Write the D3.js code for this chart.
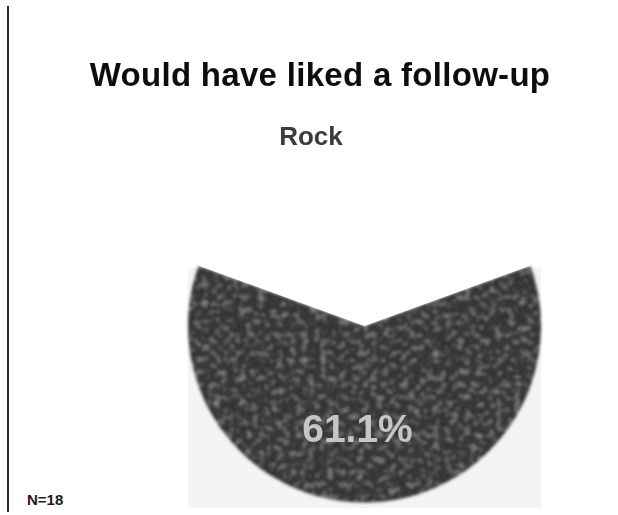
<!DOCTYPE html>
<html>
<head>
<meta charset="utf-8">
<script src="https://cdn.jsdelivr.net/npm/d3@7"></script>
<style>
  html, body { margin: 0; padding: 0; background: #ffffff; }
  svg { display: block; }
  text { font-family: "Liberation Sans", Arial, sans-serif; }
</style>
</head>
<body>
<div id="chart"></div>
<script>
// Chart data
const title = "Would have liked a follow-up";
const subtitle = "Rock";
const categories = ["Yes", "No"];
const values = [61.1, 38.9];
const sampleNote = "N=18";

const W = 618, H = 515;
const svg = d3.select("#chart").append("svg")
  .attr("width", W).attr("height", H);

const defs = svg.append("defs");

// Mottled texture + slight softening for the pie fill
const grain = defs.append("filter").attr("id", "grain")
  .attr("x", "-5%").attr("y", "-5%").attr("width", "110%").attr("height", "110%");
grain.append("feTurbulence").attr("type", "fractalNoise")
  .attr("baseFrequency", 0.16).attr("numOctaves", 3).attr("seed", 11).attr("result", "noise");
grain.append("feColorMatrix").attr("in", "noise").attr("type", "matrix")
  .attr("values", "0 0 0 0 0.34  0 0 0 0 0.34  0 0 0 0 0.34  2.0 0 0 0 -1.0")
  .attr("result", "light");
grain.append("feColorMatrix").attr("in", "noise").attr("type", "matrix")
  .attr("values", "0 0 0 0 0.06  0 0 0 0 0.06  0 0 0 0 0.06  -2.4 0 0 0 1.1")
  .attr("result", "dark");
grain.append("feComposite").attr("in", "light").attr("in2", "SourceGraphic")
  .attr("operator", "in").attr("result", "lightIn");
grain.append("feComposite").attr("in", "dark").attr("in2", "SourceGraphic")
  .attr("operator", "in").attr("result", "darkIn");
const merge = grain.append("feMerge").attr("result", "merged");
merge.append("feMergeNode").attr("in", "SourceGraphic");
merge.append("feMergeNode").attr("in", "lightIn");
merge.append("feMergeNode").attr("in", "darkIn");
grain.append("feGaussianBlur").attr("in", "merged").attr("stdDeviation", 1.5);

const soft = defs.append("filter").attr("id", "soft");
soft.append("feGaussianBlur").attr("stdDeviation", 0.6);

// Left frame rule
svg.append("line")
  .attr("x1", 8).attr("x2", 8).attr("y1", 6).attr("y2", 512)
  .attr("stroke", "#2a2a2a").attr("stroke-width", 2);

// Titles
svg.append("text")
  .attr("x", 320).attr("y", 86)
  .attr("text-anchor", "middle")
  .attr("font-size", 33).attr("font-weight", "bold")
  .attr("letter-spacing", 0.3)
  .attr("fill", "#111")
  .attr("filter", "url(#soft)")
  .text(title);

svg.append("text")
  .attr("x", 311).attr("y", 145)
  .attr("text-anchor", "middle")
  .attr("font-size", 26).attr("font-weight", "bold")
  .attr("fill", "#3a3a3a")
  .attr("filter", "url(#soft)")
  .text(subtitle);

// Pie
const cx = 364.5, cy = 326, r = 176.5;

// light plot-area panel behind the pie
svg.append("rect")
  .attr("x", cx - r).attr("y", 268)
  .attr("width", 2 * r).attr("height", 240)
  .attr("fill", "#f4f4f4");

const pie = d3.pie().sort(null)
  .startAngle(Math.PI * values[1] / 100)
  .endAngle(Math.PI * values[1] / 100 + 2 * Math.PI);
const arcs = pie(values);
const arc = d3.arc().innerRadius(0).outerRadius(r);
const color = d3.scaleOrdinal().domain(categories).range(["#333333", "#ffffff"]);

const g = svg.append("g").attr("transform", `translate(${cx},${cy})`);
g.selectAll("path.slice")
  .data(arcs)
  .join("path")
  .attr("class", "slice")
  .attr("d", arc)
  .attr("fill", (d, i) => color(categories[i]))
  .attr("filter", (d, i) => i === 0 ? "url(#grain)" : null);

// Value label on the main slice
const labelArc = d3.arc().innerRadius(r * 0.58).outerRadius(r * 0.58);
const c0 = labelArc.centroid(arcs[0]);
g.append("text")
  .attr("x", c0[0] - 7).attr("y", c0[1] + 14)
  .attr("text-anchor", "middle")
  .attr("font-size", 39).attr("font-weight", "bold")
  .attr("fill", "#c6c6c6")
  .attr("filter", "url(#soft)")
  .text(d3.format(".1f")(values[0]) + "%");

// Sample size
svg.append("text")
  .attr("x", 27).attr("y", 505)
  .attr("font-size", 15).attr("font-weight", "bold")
  .attr("fill", "#1a1a1a")
  .text(sampleNote);
</script>
</body>
</html>
